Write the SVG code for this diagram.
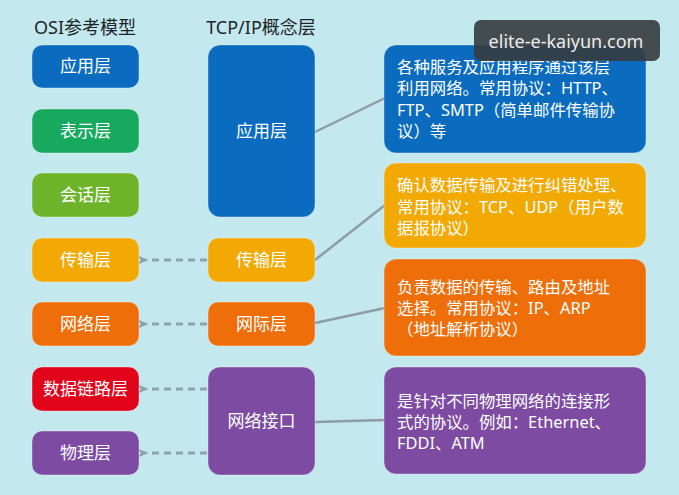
<svg xmlns="http://www.w3.org/2000/svg" width="679" height="495" viewBox="0 0 679 495">
<defs>
<style>
.bx{stroke:#ffffff;stroke-opacity:0.35;stroke-width:1}
.lbl{font-family:"Noto Sans","Noto Sans CJK SC",sans-serif;font-size:17px;fill:#ffffff;text-anchor:middle}
.ttl{font-family:"Noto Sans","Noto Sans CJK SC",sans-serif;font-size:18px;fill:#1e2528;text-anchor:middle}
.desc{font-family:"Noto Sans","Noto Sans CJK SC",sans-serif;font-size:16.4px;fill:#ffffff}
.dash{stroke:#8ea2ab;stroke-width:3;stroke-dasharray:7 5;fill:none}
.link{stroke:#8e9ca4;stroke-width:2.5;fill:none}
</style>
<marker id="ah" viewBox="0 0 10 10" refX="2" refY="5" markerWidth="3.5" markerHeight="3.5" orient="auto-start-reverse" markerUnits="strokeWidth">
<path d="M10,0.5 L0,5 L10,9.5 L7,5 Z" fill="#8ea2ab"/>
</marker>
</defs>
<rect x="0" y="0" width="679" height="495" fill="#c3e8ee"/>

<g id="titles">
<text class="ttl" x="85" y="34">OSI参考模型</text>
<text class="ttl" x="261" y="34">TCP/IP概念层</text>
</g>

<g id="connectors">
<line class="dash" x1="207" y1="260" x2="146" y2="260" marker-end="url(#ah)"/>
<line class="dash" x1="207" y1="324" x2="146" y2="324" marker-end="url(#ah)"/>
<line class="dash" x1="207" y1="389" x2="146" y2="389" marker-end="url(#ah)"/>
<line class="dash" x1="207" y1="453" x2="146" y2="453" marker-end="url(#ah)"/>
<line class="link" x1="315" y1="132" x2="385" y2="98"/>
<line class="link" x1="315" y1="260" x2="385" y2="205"/>
<line class="link" x1="315" y1="323" x2="385" y2="308"/>
<line class="link" x1="315" y1="422" x2="385" y2="420"/>
</g>

<g id="osi-app"><rect class="bx" x="32" y="45" width="107" height="43" rx="10" fill="#0b6cbf"/><text class="lbl" x="85.5" y="72">应用层</text></g>
<g id="osi-pres"><rect class="bx" x="32" y="109" width="107" height="44" rx="10" fill="#17aa5f"/><text class="lbl" x="85.5" y="137">表示层</text></g>
<g id="osi-sess"><rect class="bx" x="32" y="173" width="107" height="44" rx="10" fill="#6db42b"/><text class="lbl" x="85.5" y="201">会话层</text></g>
<g id="osi-trans"><rect class="bx" x="32" y="238" width="107" height="44" rx="10" fill="#f3a904"/><text class="lbl" x="85.5" y="266">传输层</text></g>
<g id="osi-net"><rect class="bx" x="32" y="302" width="107" height="44" rx="10" fill="#ee6e0a"/><text class="lbl" x="85.5" y="330">网络层</text></g>
<g id="osi-link"><rect class="bx" x="32" y="367" width="107" height="44" rx="10" fill="#e2041b"/><text class="lbl" x="85.5" y="395">数据链路层</text></g>
<g id="osi-phys"><rect class="bx" x="32" y="431" width="107" height="44" rx="10" fill="#7d4ba1"/><text class="lbl" x="85.5" y="459">物理层</text></g>

<g id="tcp-app"><rect class="bx" x="208" y="45" width="107" height="172" rx="12" fill="#0b6cbf"/><text class="lbl" x="261.5" y="137">应用层</text></g>
<g id="tcp-trans"><rect class="bx" x="208" y="238" width="107" height="44" rx="10" fill="#f3a904"/><text class="lbl" x="261.5" y="266">传输层</text></g>
<g id="tcp-inet"><rect class="bx" x="208" y="302" width="107" height="44" rx="10" fill="#ee6e0a"/><text class="lbl" x="261.5" y="330">网际层</text></g>
<g id="tcp-nif"><rect class="bx" x="208" y="367" width="107" height="108" rx="12" fill="#7d4ba1"/><text class="lbl" x="261.5" y="427">网络接口</text></g>

<g id="desc-app"><rect class="bx" x="384" y="45" width="262" height="108" rx="12" fill="#0b6cbf"/>
<text class="desc" x="397" y="73">各种服务及应用程序通过该层</text>
<text class="desc" x="397" y="94">利用网络。常用协议：HTTP、</text>
<text class="desc" x="397" y="116">FTP、SMTP（简单邮件传输协</text>
<text class="desc" x="397" y="137">议）等</text></g>
<g id="desc-trans"><rect class="bx" x="384" y="163" width="262" height="85" rx="12" fill="#f3a904"/>
<text class="desc" x="397" y="191">确认数据传输及进行纠错处理、</text>
<text class="desc" x="397" y="213">常用协议：TCP、UDP（用户数</text>
<text class="desc" x="397" y="234">据报协议）</text></g>
<g id="desc-inet"><rect class="bx" x="384" y="259" width="262" height="97" rx="12" fill="#ee6e0a"/>
<text class="desc" x="397" y="293">负责数据的传输、路由及地址</text>
<text class="desc" x="397" y="314">选择。常用协议：IP、ARP</text>
<text class="desc" x="397" y="335">（地址解析协议）</text></g>
<g id="desc-nif"><rect class="bx" x="384" y="367" width="262" height="107" rx="12" fill="#7d4ba1"/>
<text class="desc" x="397" y="407">是针对不同物理网络的连接形</text>
<text class="desc" x="397" y="428">式的协议。例如：Ethernet、</text>
<text class="desc" x="397" y="449">FDDI、ATM</text></g>

<g id="watermark"><rect x="474" y="20" width="186" height="41" rx="7" fill="#353c3e" fill-opacity="0.9"/>
<text x="566" y="48" font-family="'Noto Sans',sans-serif" font-size="18" fill="#ececec" text-anchor="middle">elite-e-kaiyun.com</text></g>
</svg>
